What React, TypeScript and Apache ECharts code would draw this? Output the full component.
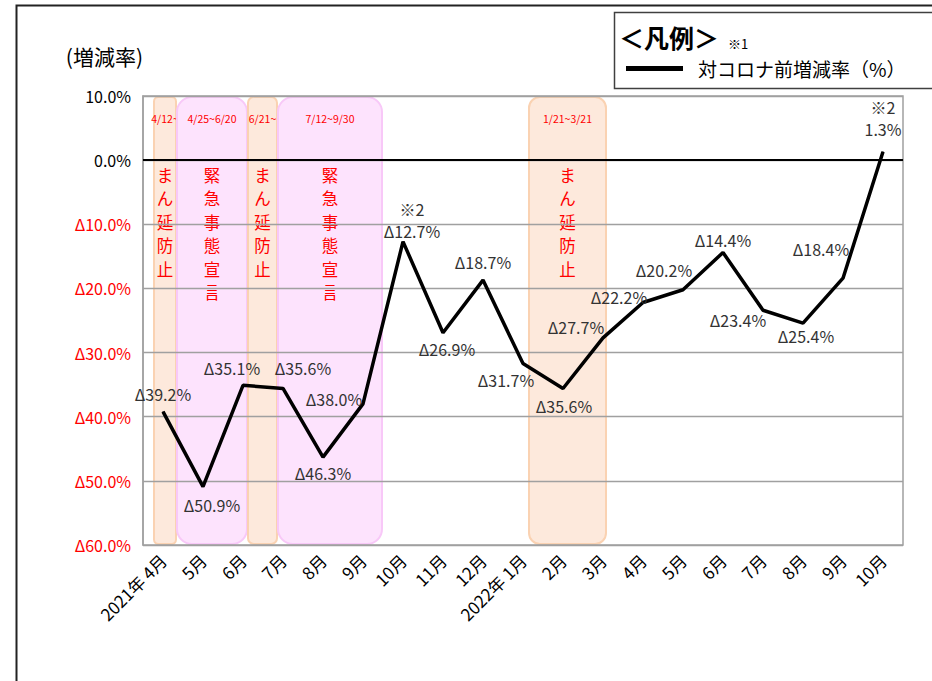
import React, { useEffect, useRef } from "react";
import * as echarts from "echarts";

const categories = [
  "2021年 4月", "5月", "6月", "7月", "8月", "9月", "10月", "11月", "12月",
  "2022年 1月", "2月", "3月", "4月", "5月", "6月", "7月", "8月", "9月", "10月",
];
const values = [
  -39.2, -50.9, -35.1, -35.6, -46.3, -38.0, -12.7, -26.9, -18.7, -31.7,
  -35.6, -27.7, -22.2, -20.2, -14.4, -23.4, -25.4, -18.4, 1.3,
];
const notes = ["", "", "", "", "", "", "※2", "", "", "", "", "", "", "", "", "", "", "", "※2"];

// restriction periods (start/end in month units from 2021-04)
const periodStart = [0.275, 0.85, 2.625, 3.375, 9.65];
const periodEnd = [0.825, 2.6, 3.35, 5.975, 11.575];
const periodKind = ["mambo", "emergency", "mambo", "emergency", "mambo"];
const periodDates = ["4/12~", "4/25~6/20", "6/21~", "7/12~9/30", "1/21~3/21"];
const periodTexts = ["まん延防止", "緊急事態宣言", "まん延防止", "緊急事態宣言", "まん延防止"];

const seriesName = "対コロナ前増減率（%）";

// label placement around points (style)
const labelOffsets = [
  [0, -18], [9, 18], [-11, -17], [20, -20], [0, 16], [-29, -5], [9, -22],
  [4, 16], [0, -18], [-17, 17], [1, 18], [-27, -11], [-24, -6], [-19, -20],
  [0, -13], [-25, 10], [3, 13], [-22, -29], [0, -34],
];

const FONT = "'Noto Sans CJK JP', 'Noto Sans', sans-serif";

const fmt = (v: number) =>
  v < 0 ? "Δ" + Math.abs(v).toFixed(1) + "%" : v.toFixed(1) + "%";

export default function App() {
  const ref = useRef<HTMLDivElement>(null);
  useEffect(() => {
    if (!ref.current) return;
    const chart = echarts.init(ref.current, null, { renderer: "svg" });
    const periodData = periodStart.map((s, i) => [s, periodEnd[i]]);
    chart.setOption({
      animation: false,
      textStyle: { fontFamily: FONT },
      graphic: [
        {
          type: "rect",
          shape: { x: 16.5, y: 5.5, width: 1000, height: 1000 },
          style: { fill: "none", stroke: "#222", lineWidth: 2 },
          silent: true,
        },
        {
          type: "rect",
          shape: { x: 614.5, y: 12.5, width: 400, height: 76 },
          style: { fill: "#fff", stroke: "#404040", lineWidth: 1.5 },
          silent: true,
          z: 0,
        },
        {
          type: "text",
          x: 619,
          y: 37,
          style: {
            text: "＜凡例＞",
            fontSize: 25,
            fontWeight: "bold",
            fontFamily: FONT,
            fill: "#000",
            verticalAlign: "middle",
          },
          z: 1,
        },
        {
          type: "text",
          x: 728,
          y: 43,
          style: {
            text: "※1",
            fontSize: 13,
            fontFamily: FONT,
            fill: "#000",
            verticalAlign: "middle",
          },
          z: 1,
        },
      ],
      legend: {
        data: [seriesName],
        left: 621,
        top: 54,
        icon: "rect",
        itemWidth: 57,
        itemHeight: 5,
        textStyle: {
          fontSize: 19,
          color: "#000",
          fontFamily: FONT,
          padding: [0, 0, 0, 10],
        },
        z: 3,
      },
      grid: {
        left: 143,
        top: 96,
        width: 760,
        height: 449,
        show: true,
        borderColor: "#a0a0a0",
        borderWidth: 1.5,
        backgroundColor: "transparent",
      },
      xAxis: [
        {
          type: "category",
          data: categories,
          boundaryGap: true,
          axisLine: { lineStyle: { color: "#a0a0a0", width: 1.5 } },
          axisTick: { show: false },
          axisLabel: {
            rotate: 45,
            fontSize: 17,
            color: "#000",
            margin: 12,
            interval: 0,
            fontFamily: FONT,
          },
        },
        {
          type: "value",
          min: 0,
          max: 19,
          show: false,
        },
      ],
      yAxis: {
        type: "value",
        min: -60,
        max: 10,
        interval: 10,
        name: "(増減率)",
        nameLocation: "end",
        nameGap: 30,
        nameTextStyle: {
          fontSize: 21,
          color: "#000",
          align: "right",
          fontFamily: FONT,
        },
        axisLine: { show: true, lineStyle: { color: "#a0a0a0", width: 1.5 } },
        axisTick: { show: false },
        splitLine: { lineStyle: { color: "#a0a0a0", width: 1.3 } },
        axisLabel: {
          fontSize: 16,
          margin: 12,
          fontFamily: FONT,
          formatter: (v: number) => fmt(v),
          color: (v: any) => (Number(v) < 0 ? "#ff0000" : "#000"),
        },
      },
      series: [
        {
          type: "custom",
          xAxisIndex: 1,
          yAxisIndex: 0,
          z: -1,
          silent: true,
          data: periodData,
          renderItem: (params: any, api: any) => {
            const i = params.dataIndex;
            const p0 = api.coord([api.value(0), 10]);
            const p1 = api.coord([api.value(1), -60]);
            const zero = api.coord([api.value(0), 0]);
            const w = p1[0] - p0[0];
            const h = p1[1] - p0[1];
            const isEm = periodKind[i] === "emergency";
            const cx = (p0[0] + p1[0]) / 2;
            return {
              type: "group",
              children: [
                {
                  type: "rect",
                  shape: {
                    x: p0[0],
                    y: p0[1] + 1,
                    width: w,
                    height: h - 2,
                    r: isEm ? 15 : Math.min(11, w / 5),
                  },
                  style: {
                    fill: isEm ? "#fde3fd" : "#fde9dc",
                    stroke: isEm ? "#f8c8f8" : "#fad2b2",
                    lineWidth: 2,
                  },
                },
                {
                  type: "text",
                  x: cx,
                  y: p0[1] + 22,
                  style: {
                    text: periodDates[i],
                    fontSize: 10.5,
                    fill: "#ff0000",
                    align: "center",
                    verticalAlign: "middle",
                    fontFamily: FONT,
                  },
                },
                {
                  type: "text",
                  x: cx,
                  y: zero[1] + 3,
                  style: {
                    text: periodTexts[i].split("").join("\n"),
                    fontSize: 16.5,
                    lineHeight: 23.5,
                    fill: "#ff0000",
                    align: "center",
                    verticalAlign: "top",
                    fontFamily: FONT,
                  },
                },
              ],
            };
          },
        },
        {
          type: "line",
          name: seriesName,
          data: values.map((v, i) => ({
            value: v,
            label: { offset: labelOffsets[i] },
          })),
          symbol: "circle",
          symbolSize: 1,
          showSymbol: true,
          itemStyle: { color: "#000" },
          lineStyle: { color: "#000", width: 3.5 },
          z: 5,
          label: {
            show: true,
            position: "inside",
            align: "center",
            verticalAlign: "middle",
            fontSize: 16,
            lineHeight: 22,
            color: "#333",
            fontFamily: FONT,
            formatter: (p: any) =>
              (notes[p.dataIndex] ? notes[p.dataIndex] + "\n" : "") + fmt(p.value),
          },
          markLine: {
            silent: true,
            symbol: ["none", "none"],
            label: { show: false },
            lineStyle: { color: "#000", width: 2, type: "solid" },
            data: [{ yAxis: 0 }],
          },
        },
      ],
    });
    return () => chart.dispose();
  }, []);
  return (
    <div
      ref={ref}
      style={{ position: "absolute", left: 0, top: 0, width: 932, height: 681, background: "#fff" }}
    />
  );
}
